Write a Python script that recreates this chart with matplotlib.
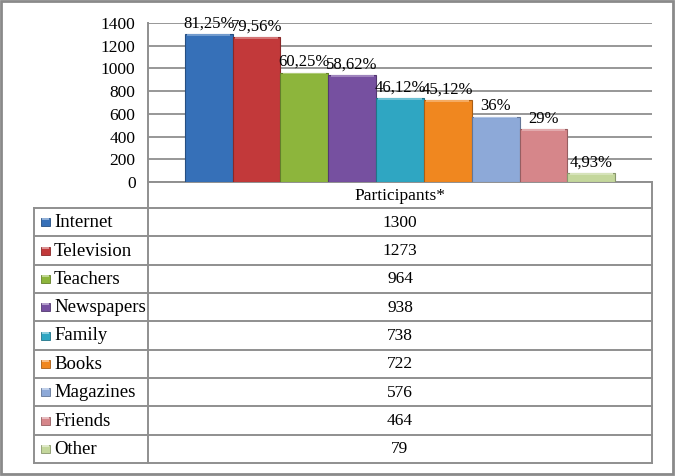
import numpy as np
import matplotlib
matplotlib.use("Agg")
import matplotlib.pyplot as plt
from matplotlib.patches import Rectangle
from matplotlib.colors import to_rgb

sources = ["Internet", "Television", "Teachers", "Newspapers", "Family",
           "Books", "Magazines", "Friends", "Other"]
participants = [1300, 1273, 964, 938, 738, 722, 576, 464, 79]
pct_labels = ["81,25%", "79,56%", "60,25%", "58,62%", "46,12%",
              "45,12%", "36%", "29%", "4,93%"]
bar_colors = ["#3670B8", "#C2393A", "#8DB53C", "#7650A0", "#2FA6C2",
              "#F0871F", "#8DA9D8", "#D6868A", "#C4D79C"]
y_ticks = [0, 200, 400, 600, 800, 1000, 1200, 1400]
header = "Participants*"

plt.rcParams["font.family"] = ["Liberation Serif", "DejaVu Serif"]
GRID = "#8f8f8f"


def shade(c, f):
    r, g, b = to_rgb(c)
    return (r * f, g * f, b * f)


def tint(c, f):
    r, g, b = to_rgb(c)
    return (r + (1 - r) * f, g + (1 - g) * f, b + (1 - b) * f)


W, H = 675, 476
fig = plt.figure(figsize=(W / 100, H / 100), dpi=100)

# pixel-space overlay for the data table and frame
pix = fig.add_axes([0, 0, 1, 1])
pix.set_xlim(0, W); pix.set_ylim(H, 0); pix.axis("off")

x_axis, x_right = 148, 652
y_top, y_zero = 23, 182
ax = fig.add_axes([x_axis / W, (H - y_zero) / H,
                   (x_right - x_axis) / W, (y_zero - y_top) / H])
ax.set_facecolor("none")
x = np.arange(len(participants))
ax.bar(x, participants, width=1.0, color=bar_colors,
       edgecolor=[shade(c, 0.7) for c in bar_colors], linewidth=0.8, zorder=3)
# bevel highlight on top of each bar
ax.bar(x, [14] * len(x), bottom=np.array(participants) - 14, width=0.9,
       color=[tint(c, 0.3) for c in bar_colors], linewidth=0, zorder=4)
for i, (v, lbl) in enumerate(zip(participants, pct_labels)):
    ax.annotate(lbl, (i, v), xytext=(0, 2), textcoords="offset points",
                ha="center", va="bottom", fontsize=12, zorder=5)
ax.set_xlim(-1.27, 9.27)
ax.set_ylim(0, 1400)
ax.set_yticks(y_ticks)
ax.set_yticklabels([str(t) for t in y_ticks], fontsize=12.5)
ax.tick_params(axis="y", length=0, pad=9)
ax.set_xticks([])
ax.grid(axis="y", color=GRID, linewidth=1.3)
ax.set_axisbelow(True)
for s in ax.spines.values():
    s.set_visible(False)

# table below the plot
x_left = 34
row_top, row_bot = 208, 463
n = len(sources)
rh = (row_bot - row_top) / n
lw = 1.4
pix.plot([x_axis, x_axis], [y_top, row_bot], color=GRID, lw=lw)
pix.plot([x_right, x_right], [y_zero, row_bot], color=GRID, lw=lw)
pix.plot([x_left, x_left], [row_top, row_bot], color=GRID, lw=lw)
pix.plot([x_axis, x_right], [y_zero, y_zero], color=GRID, lw=lw)
x_mid = (x_axis + x_right) / 2
pix.text(x_mid, (y_zero + row_top) / 2 + 1, header, ha="center",
         va="center", fontsize=12.5)
for k in range(n + 1):
    yy = row_top + k * rh
    pix.plot([x_left, x_right], [yy, yy], color=GRID, lw=lw)
for k, (name, val, c) in enumerate(zip(sources, participants, bar_colors)):
    yc = row_top + (k + 0.5) * rh
    pix.add_patch(Rectangle((41, yc - 4), 9, 8, facecolor=c,
                            edgecolor=shade(c, 0.7), lw=0.6))
    pix.add_patch(Rectangle((42, yc - 4), 7, 2.2, facecolor=tint(c, 0.45),
                            lw=0))
    pix.text(54, yc + 0.5, name, ha="left", va="center", fontsize=13.5)
    pix.text(x_mid, yc + 0.5, str(val), ha="center", va="center",
             fontsize=12.5)

# outer frame
pix.add_patch(Rectangle((1, 1), W - 3, H - 3, facecolor="none",
                        edgecolor="#8a8a8a", lw=2))

fig.savefig("out.png", dpi=100)
